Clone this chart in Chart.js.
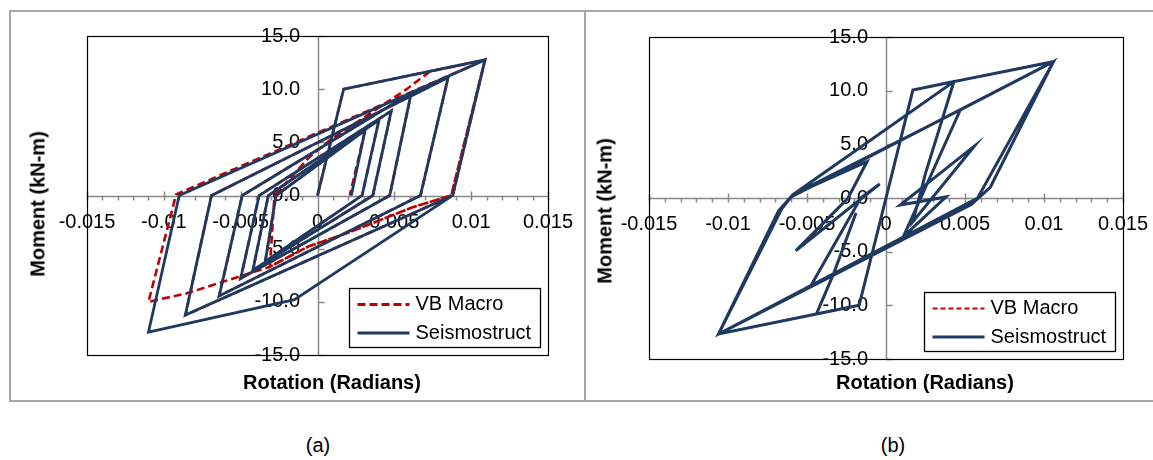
<!DOCTYPE html>
<html>
<head>
<meta charset="utf-8">
<script src="https://cdn.jsdelivr.net/npm/chart.js@4.4.0/dist/chart.umd.min.js"></script>
<style>
  body { margin: 0; background: #fff; width: 1153px; height: 460px; position: relative; overflow: hidden;
         font-family: "Liberation Sans", Arial, sans-serif; color: #000; }
  .frame { position: absolute; border: 2px solid #a6a6a6; box-sizing: border-box; }
  #frameA { left: 9px; top: 10px; width: 577px; height: 392px; }
  #frameB { left: 584px; top: 10px; width: 590px; height: 392px; }
  canvas { position: absolute; top: 0; }
  #chartA { left: 0; }
  #chartB { left: 585px; }
  .t { position: absolute; white-space: nowrap; font-size: 20px; transform: translate(-50%, -50%); }
  .b { font-weight: bold; }
  .rot { transform: translate(-50%, -50%) rotate(-90deg); }
</style>
</head>
<body>
<div class="frame" id="frameA"></div>
<div class="frame" id="frameB"></div>
<canvas id="chartA" width="585" height="410"></canvas>
<canvas id="chartB" width="568" height="410"></canvas>

<div class="t b rot" style="left:38px;top:204px">Moment (kN-m)</div>
<div class="t b" style="left:332px;top:382px">Rotation (Radians)</div>
<div class="t b rot" style="left:605px;top:211px">Moment (kN-m)</div>
<div class="t b" style="left:925px;top:382px">Rotation (Radians)</div>
<div class="t" style="left:318px;top:445px">(a)</div>
<div class="t" style="left:893px;top:445px">(b)</div>

<script>
// axis ticks
const xTickValues = [-0.015, -0.01, -0.005, 0, 0.005, 0.01, 0.015];
const xTickLabels = ['-0.015', '-0.01', '-0.005', '0', '0.005', '0.01', '0.015'];
const yTickValues = [15, 10, 5, 0, -5, -10, -15];
const yTickLabels = ['15.0', '10.0', '5.0', '0.0', '-5.0', '-10.0', '-15.0'];
const seriesNames = ['VB Macro', 'Seismostruct'];

// (a) rotation / moment paths
const macroRotA = [0, 0.0017, 0.0109, 0.0087, 0.0062, 0.0020, -0.0006, -0.0031, -0.0028, -0.0005, 0.0008, 0.0058, 0.0073, 0.0109,
  0.0087, 0.0062, 0.0020, -0.0006, -0.0031, -0.0085, -0.0110, -0.0092, 0.0109, 0.0088, -0.0086, -0.0069, 0.0085, 0.0067,
  -0.0064, -0.0049, 0.0061, 0.0047, -0.0050, -0.0038, 0.0048, 0.0036, -0.0042, -0.0032, 0.0040, 0.0029, -0.0034, -0.0027, 0.0031, 0.0021];
const macroMomA = [0, 10.0, 12.75, 0, -1.1, -3.5, -4.8, -6.7, 0, 3.65, 5.2, 10.0, 11.65, 12.75,
  0, -1.1, -3.5, -4.8, -6.7, -9.2, -10.0, 0.1, 12.75, 0, -11.25, 0, 11.1, 0,
  -9.45, 0, 9.65, 0, -7.8, 0, 7.95, 0, -7.0, 0, 7.1, 0, -6.2, 0, 6.15, 0];
const seisRotA = [0, 0.0017, 0.0109, 0.0088, -0.0015, -0.0110, -0.0090, 0.0109, 0.0088, -0.0086, -0.0069, 0.0085, 0.0067,
  -0.0064, -0.0049, 0.0061, 0.0047, -0.0050, -0.0038, 0.0048, 0.0036, -0.0042, -0.0032, 0.0040, 0.0029, -0.0034, -0.0027, 0.0031, 0.0022];
const seisMomA = [0, 10.0, 12.75, 0, -9.8, -12.85, 0, 12.75, 0, -11.25, 0, 11.1, 0,
  -9.45, 0, 9.65, 0, -7.8, 0, 7.95, 0, -7.0, 0, 7.1, 0, -6.2, 0, 6.15, 0];

// (b) rotation / moment paths (null = pen up)
const seisRotB = [0.0047, -0.0059, -0.0068, -0.0106, -0.0044, -0.0017, 0, 0.0017, 0.0043, 0.0025, 0.0017, 0.0056, 0.0009, 0.0038, 0.0011,
  0.0047, 0.0106, 0.0058, -0.0048, -0.0016, -0.0004, -0.0057, -0.0024, -0.0012, -0.0059, 0.0043, 0.0106,
  0.0066, 0.0054, -0.0048, -0.0106, -0.0066, -0.0060, 0.0106, 0.0058, -0.0106,
  null, -0.0044, -0.0033, -0.0019];
const seisMomB = [8.2, 0.3, -1.2, -12.67, -10.8, -10.0, 0, 10.05, 10.85, 2.3, -2.2, 4.85, -0.65, 0.1, -3.6,
  8.2, 12.7, 0, -8.3, 0, 1.3, -4.9, 0, 3.4, 0.3, 10.85, 12.7,
  1.0, -0.6, -8.3, -12.67, -1.0, 0.1, 12.7, 0, -12.67,
  null, -10.8, -7.0, -1.4];
const macroRotB = [0.0047, -0.0059, -0.0068, -0.0106, -0.0044, -0.0017, 0, 0.0017, 0.0043, 0.0025, 0.0017, 0.0056, 0.0009, 0.0038, 0.0011,
  0.0047, 0.0106, 0.0058, -0.0048, -0.0016, -0.0004, -0.0057, -0.0024, -0.0012, -0.0059, 0.0043, 0.0106,
  0.0066, 0.0054, -0.0048, -0.0106, -0.0066, -0.0060, 0.0106, 0.0058, -0.0106,
  null, -0.0044, -0.0033, -0.0019];
const macroMomB = [8.2, 0.3, -1.2, -12.67, -10.8, -10.0, 0, 10.05, 10.85, 2.3, -2.2, 4.85, -0.65, 0.1, -3.6,
  8.2, 12.7, 0, -8.3, 0, 1.3, -4.9, 0, 3.4, 0.3, 10.85, 12.7,
  1.0, -0.6, -8.3, -12.67, -1.0, 0.1, 12.7, 0, -12.67,
  null, -10.8, -7.0, -1.4];

const NAVY = '#1f3a60';
const RED = '#c00000';
const FONT = '20px "Liberation Sans", Arial, sans-serif';

const toPoints = (rot, mom) => rot.map((r, i) => ({x: r === null ? NaN : r, y: mom[i] === null ? NaN : mom[i]}));

// Excel style: box, axes crossing at zero, tick labels beside them, legend inside
const excelFrame = {
  id: 'excelFrame',
  beforeDatasetsDraw(chart) {
    const {ctx, chartArea: a, scales: {x, y}} = chart;
    const ax = Math.round(x.getPixelForValue(0)) + 0.5;
    const ay = Math.round(y.getPixelForValue(0)) + 0.5;
    ctx.save();
    ctx.fillStyle = '#fff';
    ctx.fillRect(a.left, a.top, a.width, a.height);

    ctx.strokeStyle = '#888';
    ctx.lineWidth = 1.5;
    ctx.beginPath();
    ctx.moveTo(a.left, ay); ctx.lineTo(a.right, ay);
    ctx.moveTo(ax, a.top); ctx.lineTo(ax, a.bottom);
    // minor ticks every 0.001
    for (let k = -15; k <= 15; k++) {
      const px = Math.round(x.getPixelForValue(k / 1000)) + 0.5;
      if (k % 5 === 0) { ctx.moveTo(px, ay - 5); ctx.lineTo(px, ay + 4); }
      else { ctx.moveTo(px, ay); ctx.lineTo(px, ay + 4); }
    }
    yTickValues.forEach(v => {
      const py = Math.round(y.getPixelForValue(v)) + 0.5;
      ctx.moveTo(ax, py); ctx.lineTo(ax + 6, py);
    });
    ctx.stroke();

    ctx.strokeStyle = '#000';
    ctx.lineWidth = 1.2;
    ctx.strokeRect(Math.round(a.left) + 0.5, Math.round(a.top) + 0.5, Math.round(a.width), Math.round(a.height));

    ctx.fillStyle = '#000';
    ctx.font = FONT;
    ctx.textBaseline = 'middle';
    ctx.textAlign = 'center';
    xTickValues.forEach((v, i) => ctx.fillText(xTickLabels[i], x.getPixelForValue(v), ay + 25.5));
    ctx.textAlign = 'right';
    yTickValues.forEach((v, i) => ctx.fillText(yTickLabels[i], ax - 18.5, y.getPixelForValue(v)));
    ctx.restore();
  },
  afterDatasetsDraw(chart) {
    const {ctx, chartArea: a} = chart;
    const w = 191, h = 59;
    const left = Math.round(a.right - 8.5 - w) + 0.5;
    const top = Math.round(a.bottom - 8 - h) + 0.5;
    ctx.save();
    ctx.fillStyle = '#fff';
    ctx.fillRect(left, top, w, h);
    ctx.strokeStyle = '#000';
    ctx.lineWidth = 1.3;
    ctx.strokeRect(left, top, w, h);
    ctx.font = FONT;
    ctx.textBaseline = 'middle';
    ctx.textAlign = 'left';
    chart.data.datasets.forEach((ds, i) => {
      const ly = top + 16 + i * 28.5;
      ctx.strokeStyle = ds.borderColor;
      ctx.lineWidth = ds.legendWidth || ds.borderWidth;
      ctx.setLineDash(ds.borderDash || []);
      ctx.beginPath();
      ctx.moveTo(left + 8, ly); ctx.lineTo(left + 60, ly);
      ctx.stroke();
      ctx.setLineDash([]);
      ctx.fillStyle = '#000';
      ctx.fillText(ds.label, left + 66, ly);
    });
    ctx.restore();
  }
};

function makeChart(id, padding, macroPts, seisPts, macroStyle, seisWidth) {
  return new Chart(document.getElementById(id), {
    type: 'scatter',
    data: {
      datasets: [
        {
          label: seriesNames[0], data: macroPts, showLine: true, order: 1, spanGaps: false,
          borderColor: RED, borderWidth: macroStyle.width, legendWidth: macroStyle.legendWidth,
          borderDash: macroStyle.dash, pointRadius: 0, tension: 0, fill: false
        },
        {
          label: seriesNames[1], data: seisPts, showLine: true, order: 0, spanGaps: false,
          borderColor: NAVY, borderWidth: seisWidth,
          pointRadius: 0, tension: 0, fill: false
        }
      ]
    },
    options: {
      responsive: false,
      animation: false,
      events: [],
      layout: {padding},
      plugins: {legend: {display: false}, tooltip: {enabled: false}},
      scales: {
        x: {type: 'linear', min: -0.015, max: 0.015, display: false},
        y: {type: 'linear', min: -15, max: 15, display: false}
      }
    },
    plugins: [excelFrame]
  });
}

makeChart('chartA', {left: 87, top: 36, right: 37, bottom: 55},
  toPoints(macroRotA, macroMomA), toPoints(seisRotA, seisMomA), {width: 2.6, legendWidth: 3, dash: [8, 4]}, 2.8);
makeChart('chartB', {left: 64, top: 37, right: 30, bottom: 51},
  toPoints(macroRotB, macroMomB), toPoints(seisRotB, seisMomB), {width: 2, legendWidth: 2, dash: [5, 3]}, 3);
</script>
</body>
</html>
